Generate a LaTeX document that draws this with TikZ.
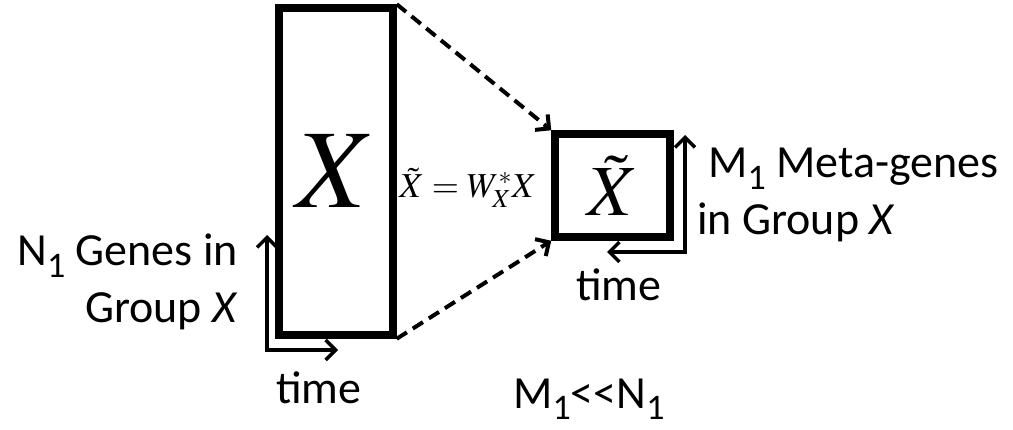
\documentclass[tikz,border=0pt]{standalone}
\usepackage{mathptmx}
\usepackage{fontspec}
\setmainfont{Carlito}
\usetikzlibrary{arrows.meta}
\newcommand{\lowone}{\raisebox{-0.25em}{\fontsize{36}{36}\selectfont 1}}
\begin{document}
\begin{tikzpicture}[x=1pt,y=-1pt,
  mat/.style={draw,line width=7.5pt,inner sep=0pt},
  axis/.style={line width=3.5pt,{Straight Barb[length=10pt,width=20pt]}-{Straight Barb[length=10pt,width=20pt]}},
  proj/.style={line width=4pt,dash pattern=on 12pt off 7pt,-{Straight Barb[length=10pt,width=20pt]}},
  lbl/.style={font=\fontsize{46}{57}\selectfont,inner sep=0pt}]
\useasboundingbox (0,0) rectangle (1013,430);
\node[mat,minimum width=114pt,minimum height=327pt] (bx) at (336,171.5) {};
\node[mat,minimum width=115pt,minimum height=103pt] (sx) at (612.5,185.5) {};
\node[inner sep=0pt] (bxl) at (bx.center) {\fontsize{112}{112}\selectfont$X$};
\node[inner sep=0pt] (sxl) at (sx.center) {\fontsize{72}{72}\selectfont$\tilde{X}$};
\node[inner sep=0pt] (eq) at (468,188) {\fontsize{35}{35}\selectfont$\tilde{X}=W_X^{*}X$};
\draw[proj] (bx.north east) -- (sx.north west);
\draw[proj] (bx.south east) -- (sx.south west);
\coordinate (l1) at (267,235);
\coordinate (l0) at (267,350);
\coordinate (l2) at (338,350);
\draw[axis] (l1) -- (l0) -- (l2);
\coordinate (r1) at (685,135);
\coordinate (r0) at (685,252);
\coordinate (r2) at (607,252);
\draw[axis] (r1) -- (r0) -- (r2);
\node[lbl,align=right,anchor=east] (ng) at (238,282) {N\lowone{} Genes in\\Group \textit{X}};
\node[lbl] (t1) at (319,388) {time};
\node[lbl] (t2) at (619,285) {time};
\node[lbl,align=left,anchor=west] (mg) at (697,195) {\hspace{11pt}M\lowone{} Meta-genes\\in Group \textit{X}};
\node[lbl,anchor=west] (mn) at (513,399) {M\lowone{}<{}<N\lowone};
\end{tikzpicture}
\end{document}
